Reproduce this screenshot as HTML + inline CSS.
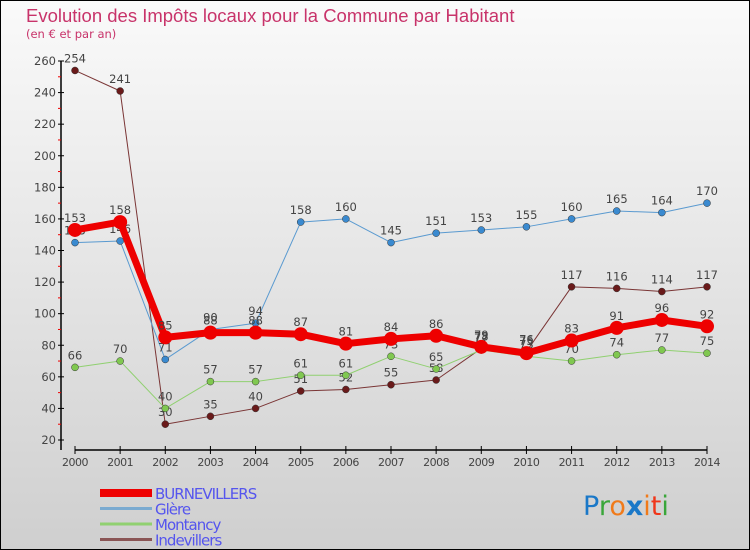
<!DOCTYPE html>
<html><head><meta charset="utf-8"><style>
body{margin:0}
#c{width:750px;height:550px;position:relative;box-sizing:border-box;border:1px solid #000;background:linear-gradient(#fafafa,#cfcfcf);font-family:"DejaVu Sans","Liberation Sans",sans-serif;overflow:hidden}
</style></head><body>
<div id="c">
<svg id="s" width="750" height="550" style="position:absolute;left:-1px;top:-1px">
<text x="26" y="22" font-size="18.5" fill="#c8336a" font-family="Liberation Sans, sans-serif">Evolution des Impôts locaux pour la Commune par Habitant</text>
<text x="26" y="38" font-size="11.5" fill="#c8336a">(en € et par an)</text>
<g id="axes"></g><g id="series"></g><g id="legend"></g>
<text x="583" y="515" font-size="27" font-family="DejaVu Sans, sans-serif"><tspan fill="#1a78c8">P</tspan><tspan fill="#3aa63a">r</tspan><tspan fill="#f07a1a">o</tspan><tspan fill="#1a78c8" font-weight="bold">x</tspan><tspan fill="#f07a1a">i</tspan><tspan fill="#f0361a">t</tspan><tspan fill="#3aa63a">i</tspan></text>
</svg>
</div>
<script>
const years=["2000","2001","2002","2003","2004","2005","2006","2007","2008","2009","2010","2011","2012","2013","2014"];
const burnevillers=[153,158,85,88,88,87,81,84,86,79,75,83,91,96,92];
const glere=[145,146,71,90,94,158,160,145,151,153,155,160,165,164,170];
const montancy=[66,70,40,57,57,61,61,73,65,77,73,70,74,77,75];
const indevillers=[254,241,30,35,40,51,52,55,58,78,76,117,116,114,117];
const yTicks=[20,40,60,80,100,120,140,160,180,200,220,240,260];
const NS="http://www.w3.org/2000/svg";
const X=i=>75+i*(632/14);
const Y=v=>440-(v-20)*(379/240);
function mk(t,a,p){const e=document.createElementNS(NS,t);for(const k in a)e.setAttribute(k,a[k]);p.appendChild(e);return e;}
const ax=document.getElementById('axes');
let e=mk('line',{x1:61,y1:Y(260),x2:61,y2:450,stroke:'#000','stroke-width':1.5},ax);

e=mk('line',{x1:75,y1:450,x2:707,y2:450,stroke:'#000','stroke-width':1.5},ax);

yTicks.forEach(v=>{
 mk('line',{x1:58,y1:Y(v),x2:64,y2:Y(v),stroke:'#000'},ax);
 if(v<260)mk('line',{x1:58,y1:Y(v+10),x2:61,y2:Y(v+10),stroke:'#e00'},ax);
 const t=mk('text',{x:56,y:Y(v)+4,'text-anchor':'end','font-size':11.5,fill:'#444'},ax);t.textContent=v;
 
});
years.forEach((y,i)=>{
 mk('line',{x1:X(i),y1:446,x2:X(i),y2:454,stroke:'#000'},ax);
 const t=mk('text',{x:X(i),y:466,'text-anchor':'middle','font-size':11,fill:'#444','letter-spacing':'-0.5'},ax);t.textContent=y;
 
});
const sg=document.getElementById('series');
const defs=[
 {n:'indevillers',d:indevillers,c:'#7a3535',dot:'#6a1a1a',w:1,r:3.5},
 {n:'montancy',d:montancy,c:'#90d070',dot:'#80c850',w:1,r:3.5},
 {n:'glere',d:glere,c:'#5a9ad0',dot:'#3a8ad0',w:1,r:3.5},
 {n:'burnevillers',d:burnevillers,c:'#ee0000',dot:'#ee0000',w:7,r:7}
];
defs.forEach(s=>{
 const g=mk('g',{},sg);
 
 const l=mk('polyline',{points:s.d.map((v,i)=>X(i)+','+Y(v)).join(' '),fill:'none',stroke:s.c,'stroke-width':s.w,'stroke-linejoin':'round'},g);
 
 s.d.forEach((v,i)=>{
  const c=mk('circle',{cx:X(i),cy:Y(v),r:s.r,fill:s.dot,stroke:s.w>1?'none':'#333','stroke-width':0.5},g);
  
  const t=mk('text',{x:X(i),y:Y(v)-8,'text-anchor':'middle','font-size':11.5,fill:'#444'},g);t.textContent=v;
  
 });
});
const lg=document.getElementById('legend');
const leg=[['BURNEVILLERS','#ee0000',8],['Glère','#7aaad0',3],['Montancy','#90d070',3],['Indevillers','#8a5555',3]];
leg.forEach((L,i)=>{
 const y=493+i*15.5;
 const g=mk('g',{},lg);
 mk('line',{x1:100,y1:y,x2:152,y2:y,stroke:L[1],'stroke-width':L[2]},g);
 const t=mk('text',{x:155,y:y+6,'font-size':15,fill:'#5555ee','letter-spacing':'-1'},g);t.textContent=L[0];
});
</script>
</body></html>
